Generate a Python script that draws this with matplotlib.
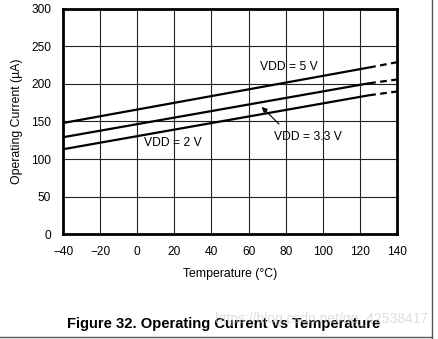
import matplotlib
matplotlib.use("Agg")
import matplotlib.pyplot as plt
from matplotlib.lines import Line2D

plt.rcParams['font.family'] = ['Liberation Sans', 'DejaVu Sans']

temp_solid = [-40, 125]
temp_dash = [125, 140]
vdd5_solid = [148, 222]
vdd5_dash = [222, 229]
vdd33_solid = [129, 201]
vdd33_dash = [201, 206]
vdd2_solid = [113, 185]
vdd2_dash = [185, 190]

xticks = [-40, -20, 0, 20, 40, 60, 80, 100, 120, 140]
xticklabels = ['\u221240', '\u221220', '0', '20', '40', '60', '80', '100', '120', '140']
yticks = [0, 50, 100, 150, 200, 250, 300]

fig = plt.figure(figsize=(4.38, 3.39), dpi=100)
ax = fig.add_axes([0.1438, 0.3097, 0.7626, 0.6638])

for ys, yd in [(vdd5_solid, vdd5_dash), (vdd33_solid, vdd33_dash), (vdd2_solid, vdd2_dash)]:
    ax.plot(temp_solid, ys, color='black', lw=1.6, solid_capstyle='butt')
    ax.plot(temp_dash, yd, color='black', lw=1.6, ls=(0, (3, 2)))

ax.set_xlim(-40, 140)
ax.set_ylim(0, 300)
ax.set_xticks(xticks)
ax.set_xticklabels(xticklabels)
ax.set_yticks(yticks)
ax.tick_params(length=0, labelsize=8.6, pad=8.5)
ax.grid(True, color='#222222', lw=0.8)
for s in ax.spines.values():
    s.set_linewidth(2)
    s.set_color('black')

ax.text(82, 223, 'VDD = 5 V', fontsize=8.7, ha='center', va='center')
ax.text(92, 129, 'VDD = 3.3 V', fontsize=8.7, ha='center', va='center')
ax.text(19, 121, 'VDD = 2 V', fontsize=8.7, ha='center', va='center')
ax.annotate('', xy=(66, 172), xytext=(77.5, 144),
            arrowprops=dict(arrowstyle='-|>', color='black', lw=0.8, mutation_scale=8))

ax.set_xlabel('Temperature (\u00b0C)', fontsize=8.8, labelpad=7)
ax.set_ylabel('Operating Current (\u00b5A)', fontsize=8.8, labelpad=6)

fig.text(0.51, 0.045, 'Figure 32. Operating Current vs Temperature', fontsize=10.6,
         fontweight='bold', ha='center', va='center')
fig.text(0.978, 0.06, 'https://blog.csdn.net/qq_42538417', fontsize=10,
         color='#c8c8c8', alpha=0.6, ha='right', va='center')

fig.add_artist(Line2D([0.986, 0.986], [0.0, 1.0], transform=fig.transFigure, color='#555555', lw=1))
fig.add_artist(Line2D([0.0, 0.986], [0.006, 0.006], transform=fig.transFigure, color='#555555', lw=1))

fig.savefig('out.png', dpi=100)
